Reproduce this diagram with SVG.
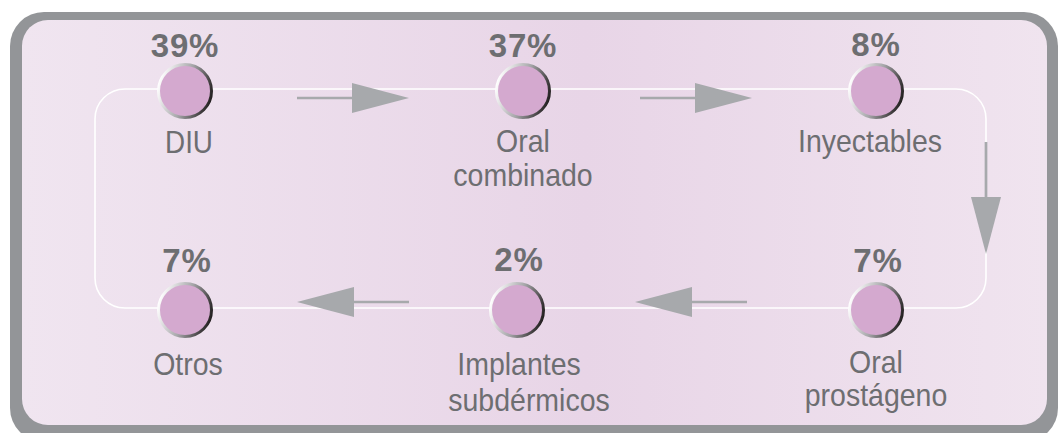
<svg xmlns="http://www.w3.org/2000/svg" width="1058" height="433" viewBox="0 0 1058 433">
<defs>
<linearGradient id="bg" x1="0" y1="0" x2="1" y2="0">
<stop offset="0" stop-color="#f0e5f0"/>
<stop offset="0.55" stop-color="#e8d5e7"/>
<stop offset="1" stop-color="#f0e4ef"/>
</linearGradient>
<linearGradient id="ring" x1="0" y1="0.35" x2="1" y2="0.65">
<stop offset="0" stop-color="#ffffff"/>
<stop offset="0.5" stop-color="#a7a7aa"/>
<stop offset="1" stop-color="#231f20"/>
</linearGradient>
<marker id="head" markerUnits="userSpaceOnUse" viewBox="0 0 57 30" markerWidth="57" markerHeight="30" refX="0" refY="15" orient="auto">
<path d="M0,0 L57,15 L0,30 Z" fill="#a7a9ac"/>
</marker>
</defs>
<style>
.pct{font-family:"Liberation Sans",Arial,sans-serif;font-weight:bold;font-size:33px;letter-spacing:0.8px;fill:#6d6e71;text-anchor:middle}
.lbl{font-family:"Liberation Sans",Arial,sans-serif;font-size:32px;fill:#6d6e71;text-anchor:middle}
.dot{fill:#d4a9cf;stroke:url(#ring);stroke-width:3}
.arr{stroke:#a7a9ac;stroke-width:2.7;fill:none;marker-end:url(#head)}
.loop{fill:none;stroke:#ffffff;stroke-width:1.6}
</style>
<g id="frame">
<rect x="10" y="12" width="1048" height="430" rx="34" fill="#939598"/>
<rect x="22" y="20" width="1025" height="405" rx="26" fill="url(#bg)"/>
</g>
<g id="connectors">
<rect class="loop" x="95" y="89" width="891" height="219" rx="30"/>
<line class="arr" x1="297" y1="98" x2="352" y2="98"/>
<line class="arr" x1="640" y1="98" x2="695" y2="98"/>
<line class="arr" x1="986" y1="142" x2="986" y2="197"/>
<line class="arr" x1="747" y1="302" x2="692" y2="302"/>
<line class="arr" x1="409" y1="302" x2="354" y2="302"/>
</g>
<g id="node-diu">
<text class="pct" x="185" y="57">39%</text>
<circle class="dot" cx="185" cy="91" r="26.5"/>
<text class="lbl" transform="translate(189,153) scale(0.87,1)">DIU</text>
</g>
<g id="node-oral-combinado">
<text class="pct" x="523" y="57">37%</text>
<circle class="dot" cx="523" cy="91" r="26.5"/>
<text class="lbl" transform="translate(523,152) scale(0.89,1)">Oral</text>
<text class="lbl" transform="translate(523,186) scale(0.89,1)">combinado</text>
</g>
<g id="node-inyectables">
<text class="pct" x="876" y="56">8%</text>
<circle class="dot" cx="876" cy="91" r="26.5"/>
<text class="lbl" transform="translate(870,152) scale(0.89,1)">Inyectables</text>
</g>
<g id="node-oral-prostageno">
<text class="pct" x="878" y="272">7%</text>
<circle class="dot" cx="876" cy="310" r="26.5"/>
<text class="lbl" transform="translate(876,373) scale(0.89,1)">Oral</text>
<text class="lbl" transform="translate(876,406) scale(0.89,1)">prostágeno</text>
</g>
<g id="node-implantes">
<text class="pct" x="519" y="271">2%</text>
<circle class="dot" cx="517" cy="310" r="26.5"/>
<text class="lbl" transform="translate(519,375) scale(0.89,1)">Implantes</text>
<text class="lbl" transform="translate(529,411) scale(0.89,1)">subdérmicos</text>
</g>
<g id="node-otros">
<text class="pct" x="187" y="272">7%</text>
<circle class="dot" cx="185" cy="310" r="26.5"/>
<text class="lbl" transform="translate(188,375) scale(0.89,1)">Otros</text>
</g>
</svg>
